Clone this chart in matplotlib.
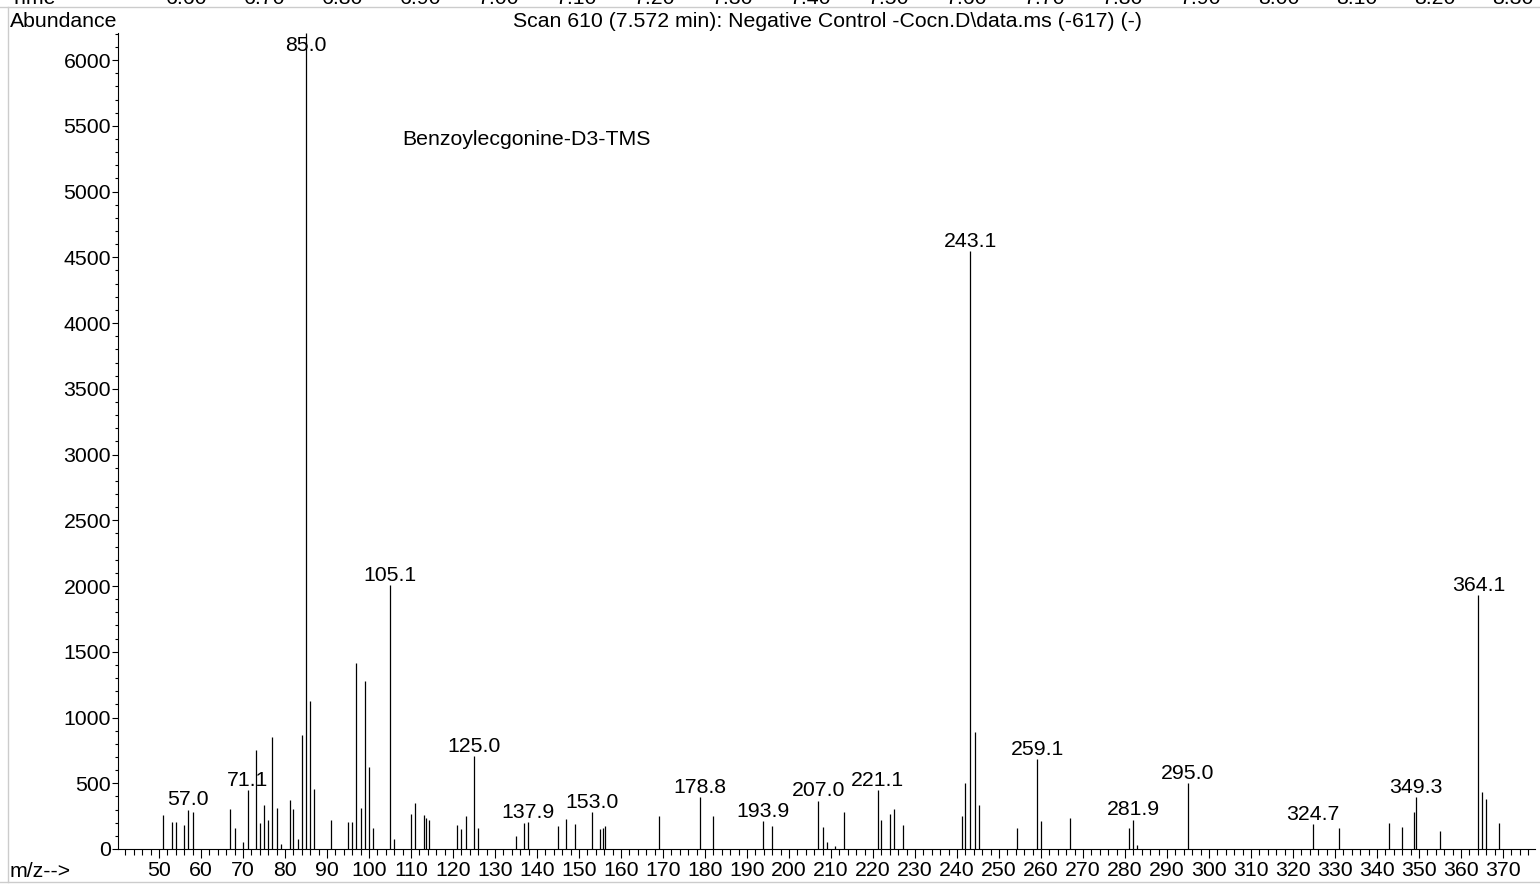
import matplotlib.pyplot as plt
from matplotlib.lines import Line2D
from matplotlib.ticker import MultipleLocator

plt.rcParams['font.family'] = ['Liberation Sans', 'DejaVu Sans']

mz = [51.0, 53.0, 54.0, 56.0, 57.0, 58.0, 67.0, 68.2, 70.0, 71.1,
      73.0, 74.0, 75.0, 76.0, 77.0, 78.0, 79.0, 81.1, 82.0, 83.0,
      84.0, 85.0, 86.0, 87.0, 91.0, 95.0, 96.0, 97.0, 98.0, 99.0,
      100.0, 101.0, 105.1, 106.0, 110.0, 111.0, 113.0, 113.6, 114.3, 121.0,
      122.0, 123.0, 125.0, 126.0, 135.0, 137.0, 137.9, 145.0, 147.0, 149.0,
      153.0, 155.0, 155.8, 156.3, 169.0, 178.8, 182.0, 193.9, 196.0, 207.0,
      208.0, 209.0, 211.0, 213.0, 221.1, 222.0, 224.0, 225.1, 227.2, 241.2,
      242.0, 243.1, 244.2, 245.2, 254.2, 259.1, 260.1, 267.0, 281.0, 281.9,
      282.9, 295.0, 324.7, 331.0, 342.9, 346.0, 348.9, 349.3, 355.0, 364.1,
      365.0, 366.0, 369.0]
abundancia = [262, 203, 206, 180, 300, 284, 302, 160, 51, 450,
              752, 196, 335, 218, 851, 310, 36, 376, 302, 79,
              866, 6210, 1125, 460, 224, 203, 208, 1417, 310, 1278,
              627, 157, 2005, 74, 269, 353, 259, 234, 224, 180,
              152, 254, 706, 157, 102, 200, 205, 178, 226, 188,
              282, 152, 157, 173, 254, 396, 251, 213, 173, 368,
              165, 51, 20, 279, 447, 218, 264, 302, 183, 249,
              505, 4545, 891, 333, 163, 686, 211, 234, 163, 224,
              28, 500, 190, 157, 198, 168, 282, 396, 135, 1930,
              437, 378, 196]

# picos com rotulo
picos_rotulo = [57.0, 71.1, 85.0, 105.1, 125.0, 137.9, 153.0, 178.8, 193.9,
                207.0, 221.1, 243.1, 259.1, 281.9, 295.0, 324.7, 349.3, 364.1]

# eixo de tempo (cortado no topo)
tempos = ['6.60', '6.70', '6.80', '6.90', '7.00', '7.10', '7.20', '7.30', '7.40',
          '7.50', '7.60', '7.70', '7.80', '7.90', '8.00', '8.10', '8.20', '8.30']

titulo = 'Scan 610 (7.572 min): Negative Control -Cocn.D\\data.ms (-617) (-)'
composto = 'Benzoylecgonine-D3-TMS'

W, H = 1540, 884
fs = 15.3

fig = plt.figure(figsize=(W / 100, H / 100), dpi=100)
ax = fig.add_axes([118 / W, 1 - 849 / H, (1535 - 118) / W, (849 - 32.5) / H])

ax.vlines(mz, 0, abundancia, color='black', lw=0.9)

ax.set_xlim(40.24, 377.6)
ax.set_ylim(0, 6210)

ax.spines['top'].set_visible(False)
ax.spines['right'].set_visible(False)
ax.spines['left'].set_linewidth(0.8)
ax.spines['bottom'].set_linewidth(0.8)

ax.xaxis.set_major_locator(MultipleLocator(10))
ax.xaxis.set_minor_locator(MultipleLocator(2))
ax.yaxis.set_major_locator(MultipleLocator(500))
ax.yaxis.set_minor_locator(MultipleLocator(100))
ax.set_xticks(range(50, 380, 10))
ax.tick_params(axis='x', which='major', length=6.5, width=0.8, pad=2.5, labelsize=fs)
ax.tick_params(axis='x', which='minor', length=4, width=0.8)
ax.tick_params(axis='y', which='major', length=4, width=0.8, pad=1, labelsize=fs)
ax.tick_params(axis='y', which='minor', length=2.5, width=0.8)

for m, a in zip(mz, abundancia):
    if m in picos_rotulo:
        y = min(a, 6040)
        ax.annotate(f'{m:.1f}', xy=(m, y), xytext=(0, 3), textcoords='offset points',
                    ha='center', va='baseline', fontsize=fs)

# textos da figura
fig.text(10 / W, 1 - 27 / H, 'Abundance', fontsize=fs, va='baseline', ha='left')
fig.text(827 / W, 1 - 27 / H, titulo, fontsize=fs, va='baseline', ha='center')
fig.text(402 / W, 1 - 145 / H, composto, fontsize=fs, va='baseline', ha='left')
fig.text(10 / W, 1 - 877 / H, 'm/z-->', fontsize=fs, va='baseline', ha='left')

fig.text(10 / W, 1 - 4 / H, 'Time', fontsize=fs, va='baseline', ha='left')
for i, t in enumerate(tempos):
    fig.text((187 + 78 * i) / W, 1 - 4 / H, t, fontsize=fs, va='baseline', ha='center')

# bordas cinzas
cinza = '#cccccc'
fig.add_artist(Line2D([0, 1], [1 - 7 / H, 1 - 7 / H], transform=fig.transFigure, color=cinza, lw=1))
fig.add_artist(Line2D([0, 1], [1 - 882 / H, 1 - 882 / H], transform=fig.transFigure, color=cinza, lw=1))
fig.add_artist(Line2D([8 / W, 8 / W], [1 - 7 / H, 1 - 882 / H], transform=fig.transFigure, color=cinza, lw=1))

fig.savefig('out.png', dpi=100)
